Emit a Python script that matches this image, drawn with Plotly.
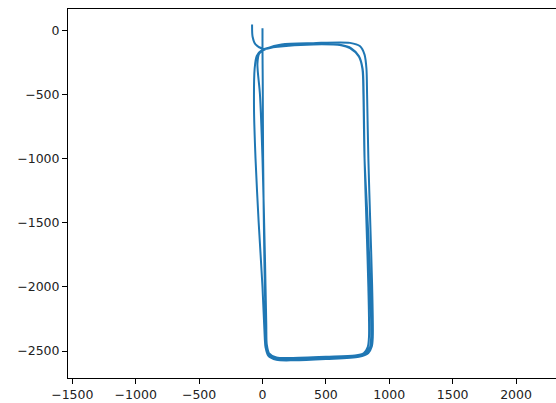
import plotly.graph_objects as go

# trajectory waypoints (data units)
path_x = [0, 0, 2, 5, 15, 25, 30, 50, 110, 200, 500, 730, 800, 830, 840, 835, 820, 805, 798, 790, 760, 700, 620, 400, 150, 50, 0,
          -45, -62, -67, -55, -30, 0, 18, 24, 45, 110, 250, 500, 760, 835, 862, 870, 865, 850, 835, 825, 820, 805, 770, 690, 400, 150, 40,
          -25, -40, -20, 0, 20, 30, 34, 55, 120, 250, 500, 740, 815, 848, 857, 850, 830, 805, 796, 788, 760, 690, 620, 400, 100, 10,
          -55, -78, -82]
path_y = [15, -150, -400, -1000, -1800, -2300, -2440, -2515, -2550, -2555, -2545, -2535, -2515, -2470, -2390, -2000, -1500, -1000, -500, -300, -200, -140, -115, -105, -118, -135, -150,
          -200, -300, -600, -1000, -1500, -2000, -2400, -2470, -2535, -2568, -2572, -2562, -2545, -2515, -2465, -2390, -2000, -1500, -1000, -500, -300, -190, -125, -98, -100, -110, -140,
          -180, -260, -500, -1000, -1800, -2300, -2450, -2525, -2555, -2560, -2550, -2540, -2515, -2470, -2390, -2000, -1500, -1000, -500, -300, -205, -140, -117, -110, -130, -145,
          -110, -50, 45]

x_ticks = [-1500, -1000, -500, 0, 500, 1000, 1500, 2000]
y_ticks = [0, -500, -1000, -1500, -2000, -2500]

def lab(v):
    return ("\u2212" + str(-v)) if v < 0 else str(v)

fig = go.Figure()
fig.add_trace(go.Scatter(x=path_x, y=path_y, mode="lines",
                         line=dict(color="#1f77b4", width=2, shape="spline", smoothing=0.8),
                         showlegend=False))

axis_common = dict(showgrid=False, zeroline=False, showline=True, linecolor="black", linewidth=1,
                   ticks="outside", ticklen=5, tickwidth=1, tickcolor="black",
                   tickfont=dict(family="DejaVu Sans", size=12.5, color="#222"))
fig.update_layout(
    width=556, height=403,
    margin=dict(l=68, r=0, t=9, b=25),
    plot_bgcolor="white", paper_bgcolor="white",
    xaxis=dict(range=[-1534, 2315], tickvals=x_ticks, ticktext=[lab(v) for v in x_ticks],
               mirror=True, **axis_common),
    yaxis=dict(range=[-2710, 166], tickvals=y_ticks, ticktext=[lab(v) for v in y_ticks],
               **axis_common),
)
fig.write_html("out.html")
